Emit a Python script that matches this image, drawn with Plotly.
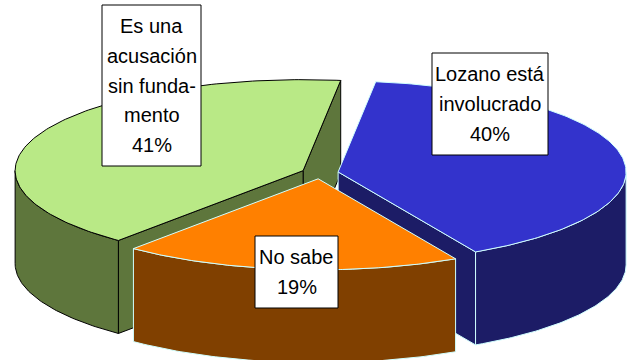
import numpy as np
import plotly.graph_objects as go

# Survey answers, listed clockwise from the top of the pie
labels = ["Lozano está involucrado", "No sabe", "Es una acusación sin fundamento"]
values = [40, 19, 41]
label_lines = [
    ["Lozano está", "involucrado"],
    ["No sabe"],
    ["Es una", "acusación", "sin funda-", "mento"],
]
top_colors = ["#3333CC", "#FF8000", "#B9E986"]
side_colors = ["#1C1C66", "#804000", "#5E763C"]
edge_colors = ["#D0FFFF", "#D0FFFF", "#000000"]

# Pie geometry in pixel units (the axes are mapped 1:1 onto the canvas)
CX, CY = 320.0, 173.0       # centre of the un-exploded pie
RX, RY = 288.0, 91.0        # ellipse radii of the tilted disc
DEPTH = 93.0                # thickness of the disc
EXPLODE = 0.064             # explosion as a fraction of the radius
START_DEG = 82.5            # angle where the first slice begins

# Label box layout: (left, top, right, bottom) and first text line y
label_boxes = [(432, 53, 548, 155), (255, 236, 338, 308), (102, 5, 201, 166)]
LINE_STEP = 29.8

fig = go.Figure()


def ring(cx, cy, t, z=0.0):
    return cx + RX * np.cos(t), cy - RY * np.sin(t) + z


def add_poly(xs, ys, fill, edge):
    fig.add_trace(go.Scatter(
        x=list(xs) + [xs[0]], y=list(ys) + [ys[0]],
        mode="lines", fill="toself", fillcolor=fill,
        line=dict(color=edge, width=1), hoverinfo="skip", showlegend=False,
    ))


total = float(sum(values))
slices = []
hi = np.radians(START_DEG)
for i, v in enumerate(values):
    span = 2 * np.pi * v / total
    lo = hi - span
    mid = (lo + hi) / 2
    cx = CX + EXPLODE * RX * np.cos(mid)
    cy = CY - EXPLODE * RY * np.sin(mid)
    slices.append(dict(i=i, lo=lo, hi=hi, mid=mid, cx=cx, cy=cy))
    hi = lo

# back slices first
for s in sorted(slices, key=lambda s: -np.sin(s["mid"])):
    i, lo, hi, cx, cy = s["i"], s["lo"], s["hi"], s["cx"], s["cy"]
    side, top, edge = side_colors[i], top_colors[i], edge_colors[i]

    # radial cut faces that face the viewer
    for t, normal in ((lo, lo - np.pi / 2), (hi, hi + np.pi / 2)):
        if np.sin(normal) < 0:
            rx, ry = ring(cx, cy, t)
            add_poly([cx, rx, rx, cx], [cy, ry, ry + DEPTH, cy + DEPTH], side, edge)

    # outer wall on the front half of the disc
    for k in range(-3, 3):
        a = max(lo, np.pi + 2 * np.pi * k)
        b = min(hi, 2 * np.pi + 2 * np.pi * k)
        if b - a > 1e-6:
            t = np.linspace(a, b, 80)
            x1, y1 = ring(cx, cy, t)
            x2, y2 = ring(cx, cy, t[::-1], DEPTH)
            add_poly(np.concatenate([x1, x2]), np.concatenate([y1, y2]), side, edge)

    # top face
    t = np.linspace(lo, hi, 160)
    xt, yt = ring(cx, cy, t)
    add_poly(np.concatenate([[cx], xt]), np.concatenate([[cy], yt]), top, edge)

# labels: white boxes with the category name and percentage
for i, v in enumerate(values):
    x0, y0, x1, y1 = label_boxes[i]
    fig.add_shape(type="rect", x0=x0, y0=y0, x1=x1, y1=y1,
                  xref="x", yref="y", layer="above",
                  fillcolor="white", line=dict(color="black", width=1))
    lines = label_lines[i] + [f"{v}%"]
    n = len(lines)
    ymid = (y0 + y1) / 2
    for j, txt in enumerate(lines):
        fig.add_annotation(
            x=(x0 + x1) / 2, y=ymid + (j - (n - 1) / 2) * LINE_STEP,
            xref="x", yref="y", text=txt, showarrow=False,
            font=dict(family="Liberation Sans, Arial, sans-serif", size=20, color="black"),
            xanchor="center", yanchor="middle",
        )

fig.update_layout(
    width=628, height=360,
    margin=dict(l=0, r=0, t=0, b=0),
    paper_bgcolor="white", plot_bgcolor="white",
    xaxis=dict(range=[0, 628], visible=False, fixedrange=True),
    yaxis=dict(range=[360, 0], visible=False, fixedrange=True),
    showlegend=False,
)

fig.write_html("out.html")
